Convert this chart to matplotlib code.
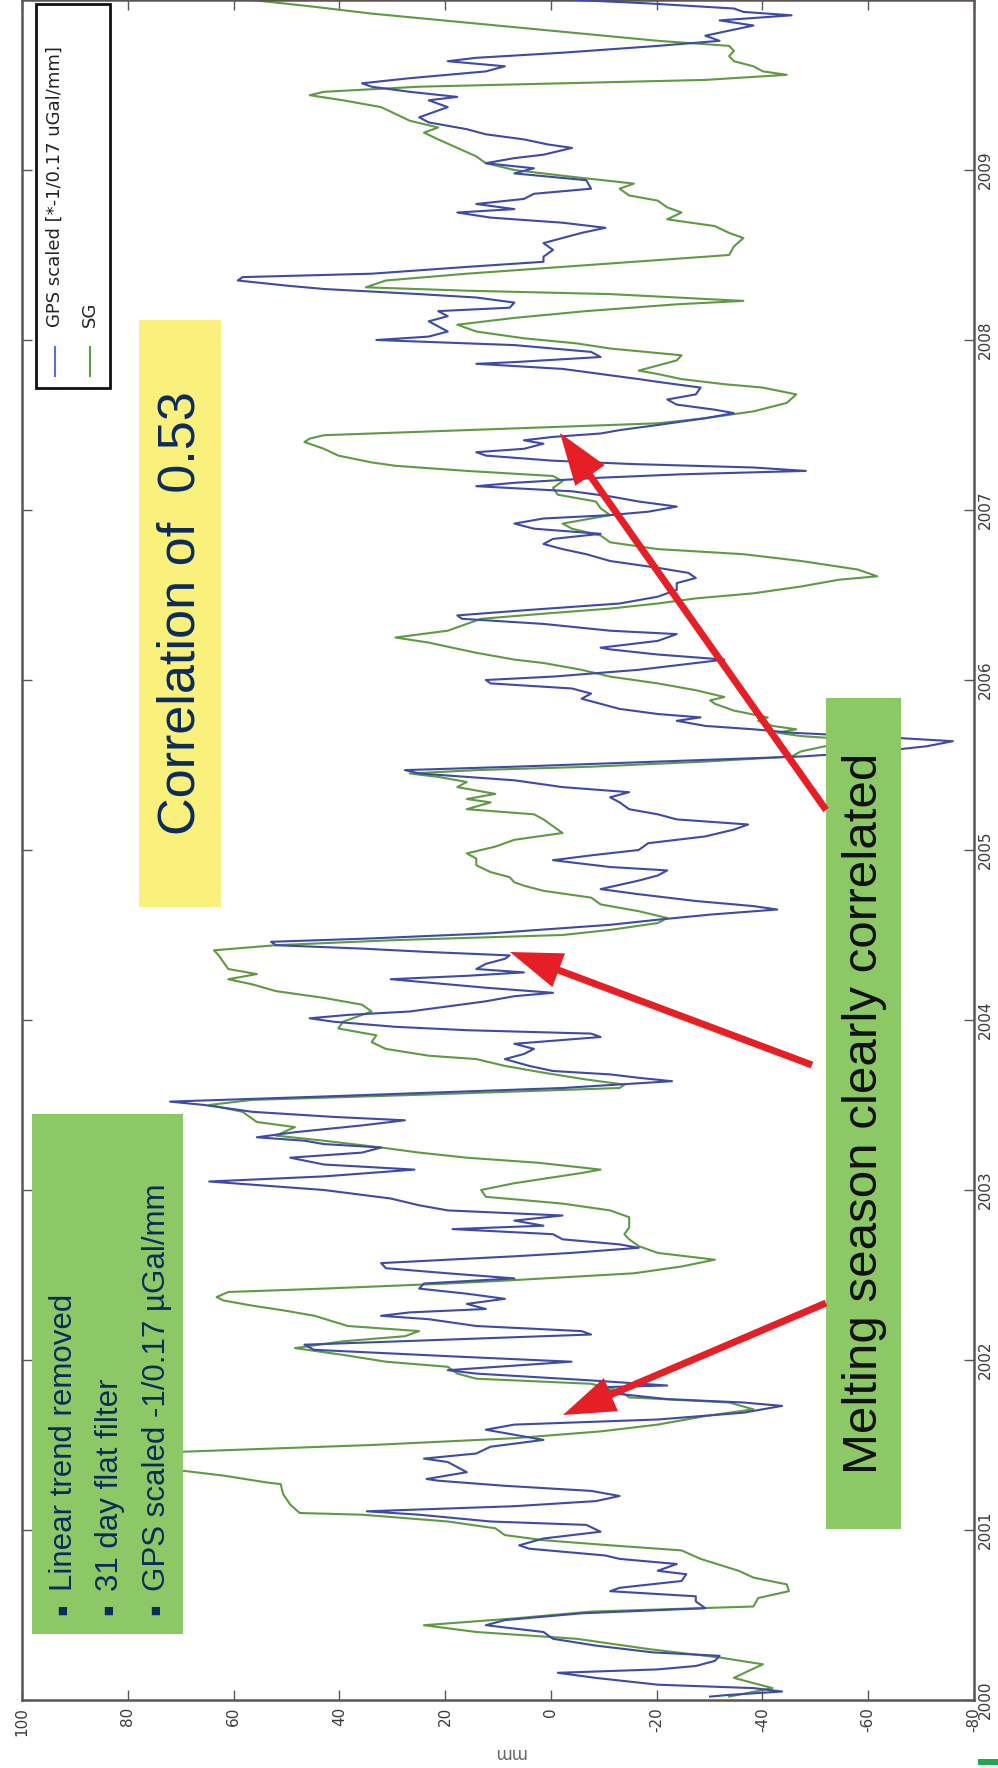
import matplotlib
matplotlib.use("Agg")
import matplotlib.pyplot as plt
from matplotlib.patches import Rectangle, FancyArrow
import numpy as np

# ---------------- data (decimal year, value) ----------------
sg_time = [2000.02,2000.07,2000.13,2000.17,2000.21,2000.25,2000.27,2000.30,2000.36,2000.40,2000.44,2000.48,2000.52,2000.55,2000.60,2000.64,2000.68,2000.72,2000.76,2000.83,2000.88,2000.91,2000.94,2000.97,2001.01,2001.05,2001.09,2001.10,2001.15,2001.21,2001.27,2001.28,2001.32,2001.35,2001.43,2001.46,2001.50,2001.54,2001.58,2001.62,2001.67,2001.71,2001.75,2001.78,2001.82,2001.86,2001.89,2001.92,2001.96,2001.99,2002.03,2002.07,2002.11,2002.14,2002.17,2002.20,2002.26,2002.29,2002.32,2002.35,2002.37,2002.40,2002.42,2002.45,2002.47,2002.51,2002.55,2002.59,2002.63,2002.67,2002.71,2002.74,2002.78,2002.84,2002.88,2002.92,2002.96,2003.00,2003.04,2003.10,2003.12,2003.16,2003.19,2003.22,2003.25,2003.29,2003.32,2003.37,2003.40,2003.42,2003.46,2003.50,2003.53,2003.56,2003.60,2003.62,2003.65,2003.69,2003.73,2003.77,2003.79,2003.83,2003.87,2003.91,2003.95,2003.99,2004.05,2004.09,2004.13,2004.17,2004.21,2004.24,2004.27,2004.30,2004.34,2004.38,2004.41,2004.44,2004.47,2004.50,2004.53,2004.57,2004.60,2004.64,2004.68,2004.72,2004.76,2004.79,2004.81,2004.84,2004.87,2004.91,2004.95,2004.98,2005.02,2005.06,2005.10,2005.14,2005.18,2005.21,2005.24,2005.28,2005.30,2005.33,2005.37,2005.40,2005.43,2005.45,2005.47,2005.49,2005.52,2005.55,2005.58,2005.61,2005.64,2005.67,2005.69,2005.71,2005.73,2005.76,2005.78,2005.82,2005.86,2005.88,2005.90,2005.94,2005.98,2006.02,2006.06,2006.08,2006.10,2006.12,2006.16,2006.19,2006.22,2006.25,2006.29,2006.33,2006.36,2006.39,2006.42,2006.45,2006.48,2006.51,2006.55,2006.59,2006.61,2006.65,2006.70,2006.74,2006.77,2006.81,2006.85,2006.89,2006.92,2006.95,2006.97,2007.01,2007.05,2007.09,2007.13,2007.17,2007.20,2007.23,2007.26,2007.28,2007.32,2007.36,2007.40,2007.42,2007.44,2007.46,2007.49,2007.51,2007.54,2007.58,2007.63,2007.68,2007.72,2007.74,2007.77,2007.80,2007.82,2007.85,2007.88,2007.91,2007.95,2007.98,2008.01,2008.05,2008.09,2008.13,2008.17,2008.21,2008.23,2008.27,2008.29,2008.31,2008.35,2008.39,2008.43,2008.47,2008.50,2008.55,2008.60,2008.63,2008.67,2008.71,2008.75,2008.78,2008.82,2008.85,2008.89,2008.92,2008.96,2009.00,2009.04,2009.08,2009.13,2009.18,2009.22,2009.25,2009.29,2009.33,2009.37,2009.41,2009.44,2009.46,2009.49,2009.51,2009.53,2009.56,2009.58,2009.61,2009.64,2009.67,2009.70,2009.73,2009.76,2009.80,2009.84,2009.88,2009.92,2009.96,2010.00]
sg_value = [-33.7,-41.9,-34.6,-37.3,-40.1,-31.9,-26.5,-18.4,-4.9,14.1,24.0,6.9,-7.6,-38.3,-39.2,-45.0,-44.6,-38.3,-35.5,-28.3,-24.7,-11.2,1.4,8.7,10.5,19.5,35.7,47.5,49.3,50.6,51.1,53.8,61.9,70.0,80.0,70.0,33.9,6.9,-9.4,-20.2,-29.2,-38.3,-33.7,-14.8,-13.0,-7.6,14.1,17.7,19.5,31.2,39.3,48.4,39.3,27.6,24.9,38.4,44.7,50.2,56.5,61.9,63.2,61.0,42.9,19.5,6.9,-15.7,-24.7,-31.0,-20.2,-16.6,-14.8,-13.9,-14.8,-14.8,-11.2,-2.2,12.3,13.2,6.9,-5.8,-9.4,2.3,15.9,24.9,32.1,42.9,52.0,48.4,55.6,56.5,58.3,64.6,56.5,24.9,-13.0,-13.9,-6.7,1.4,8.7,14.1,23.1,31.2,33.9,33.0,40.2,39.3,33.9,35.7,42.9,52.0,56.5,61.0,55.6,61.0,61.9,62.8,63.7,52.0,29.4,-2.2,-11.2,-20.2,-22.0,-16.6,-9.4,-7.6,1.4,5.1,6.9,7.8,11.4,14.1,14.1,15.9,10.5,6.9,-2.2,-0.4,1.4,3.2,15.9,11.4,15.9,10.5,17.7,15.9,21.3,26.7,14.1,-7.6,-29.2,-45.5,-47.3,-51.8,-62.0,-47.3,-42.8,-46.4,-41.9,-39.2,-41.0,-34.6,-31.0,-30.1,-32.8,-27.4,-20.2,-11.2,-5.8,-2.2,1.4,6.9,14.1,18.6,23.1,29.4,19.5,15.9,13.2,1.4,-11.2,-20.2,-27.4,-38.3,-47.3,-54.5,-61.7,-58.0,-47.3,-36.4,-20.2,-11.2,-9.4,-4.0,-2.2,-7.6,-11.2,-9.4,-8.5,-1.3,-0.4,-2.2,-0.4,15.9,29.4,33.9,40.2,42.9,46.6,45.6,42.9,24.9,-2.2,-20.2,-29.2,-38.3,-44.6,-46.4,-40.1,-32.8,-24.7,-20.2,-16.6,-20.2,-23.8,-24.7,-11.2,-4.9,5.1,14.1,17.7,6.9,-6.7,-23.8,-36.4,-11.2,15.9,35.0,31.2,15.9,-2.2,-20.2,-33.7,-34.6,-36.4,-33.7,-31.0,-22.0,-24.7,-22.0,-20.2,-14.8,-13.0,-15.7,-4.0,6.9,12.3,14.1,17.7,21.3,24.0,21.3,26.7,29.4,32.1,39.3,45.6,42.9,24.9,-2.2,-29.2,-44.6,-40.1,-38.3,-34.6,-33.7,-34.6,-33.7,-20.2,-6.7,6.9,20.4,33.9,44.7,56.5]

gps_time = [2000.02,2000.03,2000.05,2000.07,2000.09,2000.13,2000.16,2000.18,2000.20,2000.23,2000.26,2000.28,2000.32,2000.36,2000.40,2000.44,2000.47,2000.51,2000.54,2000.58,2000.61,2000.64,2000.66,2000.70,2000.74,2000.76,2000.80,2000.83,2000.85,2000.89,2000.91,2000.95,2000.99,2001.03,2001.05,2001.09,2001.11,2001.14,2001.17,2001.20,2001.23,2001.26,2001.29,2001.30,2001.34,2001.37,2001.40,2001.42,2001.45,2001.49,2001.53,2001.56,2001.59,2001.62,2001.65,2001.69,2001.73,2001.75,2001.77,2001.80,2001.84,2001.85,2001.88,2001.92,2001.94,2001.99,2002.02,2002.06,2002.09,2002.12,2002.15,2002.17,2002.20,2002.24,2002.26,2002.28,2002.30,2002.33,2002.36,2002.39,2002.42,2002.45,2002.48,2002.51,2002.54,2002.57,2002.61,2002.63,2002.66,2002.68,2002.71,2002.74,2002.77,2002.79,2002.82,2002.85,2002.88,2002.91,2002.95,2003.00,2003.05,2003.08,2003.12,2003.15,2003.19,2003.22,2003.25,2003.27,2003.29,2003.31,2003.34,2003.38,2003.41,2003.43,2003.46,2003.50,2003.52,2003.55,2003.60,2003.64,2003.66,2003.68,2003.70,2003.73,2003.77,2003.80,2003.83,2003.86,2003.90,2003.92,2003.94,2003.96,2003.99,2004.01,2004.03,2004.05,2004.08,2004.11,2004.14,2004.16,2004.19,2004.22,2004.24,2004.26,2004.28,2004.30,2004.33,2004.36,2004.38,2004.40,2004.42,2004.44,2004.46,2004.48,2004.51,2004.54,2004.56,2004.59,2004.62,2004.65,2004.67,2004.70,2004.74,2004.77,2004.82,2004.85,2004.88,2004.90,2004.94,2004.97,2005.00,2005.04,2005.08,2005.12,2005.15,2005.18,2005.21,2005.24,2005.28,2005.31,2005.34,2005.37,2005.41,2005.45,2005.47,2005.49,2005.52,2005.55,2005.58,2005.61,2005.64,2005.66,2005.68,2005.69,2005.71,2005.73,2005.76,2005.78,2005.80,2005.83,2005.86,2005.89,2005.92,2005.95,2005.98,2006.00,2006.02,2006.06,2006.09,2006.12,2006.15,2006.18,2006.19,2006.23,2006.27,2006.29,2006.33,2006.36,2006.38,2006.41,2006.45,2006.49,2006.53,2006.57,2006.60,2006.63,2006.66,2006.70,2006.74,2006.77,2006.80,2006.83,2006.86,2006.89,2006.92,2006.95,2006.97,2006.99,2007.02,2007.05,2007.08,2007.11,2007.14,2007.16,2007.19,2007.21,2007.23,2007.25,2007.27,2007.29,2007.32,2007.34,2007.36,2007.39,2007.41,2007.43,2007.45,2007.47,2007.50,2007.54,2007.57,2007.59,2007.62,2007.65,2007.68,2007.72,2007.75,2007.77,2007.80,2007.83,2007.86,2007.87,2007.90,2007.93,2007.97,2008.00,2008.02,2008.05,2008.08,2008.11,2008.14,2008.17,2008.19,2008.22,2008.25,2008.27,2008.30,2008.32,2008.35,2008.37,2008.39,2008.43,2008.46,2008.49,2008.53,2008.57,2008.60,2008.63,2008.66,2008.69,2008.72,2008.75,2008.77,2008.80,2008.83,2008.86,2008.89,2008.94,2008.98,2009.01,2009.04,2009.07,2009.09,2009.13,2009.15,2009.18,2009.21,2009.24,2009.25,2009.28,2009.31,2009.34,2009.37,2009.41,2009.43,2009.46,2009.49,2009.51,2009.54,2009.58,2009.61,2009.64,2009.66,2009.69,2009.73,2009.76,2009.79,2009.82,2009.85,2009.88,2009.91,2009.93,2009.95,2009.98,2010.00]
gps_value = [-30.1,-33.7,-43.7,-38.3,-20.2,-8.5,-1.3,-20.2,-27.4,-31.0,-31.9,-19.3,-8.5,-0.4,1.4,12.3,8.7,-5.8,-29.2,-27.4,-27.4,-11.2,-13.0,-24.7,-25.6,-20.2,-23.8,-13.0,-10.3,4.1,6.0,1.4,-9.4,-6.7,11.4,24.9,34.8,6.9,-8.5,-13.0,-7.6,8.7,21.3,23.5,15.9,17.7,19.5,24.0,14.1,11.4,1.4,6.9,12.3,6.9,-20.2,-36.4,-43.7,-36.4,-22.0,-13.0,-9.4,-22.0,-7.6,14.1,19.5,-3.9,17.7,44.8,46.6,19.5,-7.6,-5.8,14.1,23.1,32.1,26.7,12.3,15.9,8.7,15.9,24.9,24.0,6.9,19.5,31.2,32.1,6.9,-3.9,-16.6,-13.0,-2.2,-0.4,18.6,1.4,6.9,-2.2,19.5,24.9,30.3,42.9,64.6,42.9,25.8,42.9,49.3,35.7,32.1,42.9,46.6,55.6,48.4,35.7,27.6,41.1,56.5,65.5,72.0,43.0,-2.2,-22.9,-16.6,-11.2,-0.4,4.1,8.7,5.1,3.2,6.9,-9.4,-7.6,15.9,29.4,41.1,45.6,38.4,26.7,19.5,12.3,6.9,-0.4,12.3,23.1,30.3,15.9,5.1,14.1,12.3,8.7,7.8,23.1,35.7,52.0,52.9,33.9,11.4,-2.2,-11.2,-20.2,-30.1,-42.8,-38.3,-27.4,-16.6,-9.4,-16.6,-20.2,-22.0,-11.2,-0.4,-8.0,-16.6,-18.4,-29.2,-34.6,-37.3,-23.8,-20.2,-14.8,-13.0,-11.2,-14.8,-2.2,6.9,24.9,27.6,6.9,-20.2,-47.3,-62.0,-71.0,-76.0,-65.0,-51.8,-45.5,-38.3,-29.2,-23.8,-28.3,-20.2,-13.0,-9.4,-5.8,-7.6,-4.0,11.4,12.3,-0.4,-16.6,-24.7,-32.8,-20.2,-11.2,-9.4,-20.2,-23.8,-11.2,1.4,16.8,17.7,5.1,-13.0,-20.2,-23.8,-23.8,-27.4,-26.0,-20.2,-11.2,-6.7,-2.2,1.4,-0.4,-9.4,3.2,6.9,1.4,-11.2,-18.4,-23.8,-16.6,-11.2,-4.0,14.1,6.9,-9.4,-24.7,-48.2,-38.3,-15.7,-0.4,12.3,14.1,5.1,1.4,5.1,-0.4,-9.4,-13.0,-20.2,-29.2,-34.6,-31.0,-23.8,-22.0,-27.4,-28.3,-21.1,-16.6,-9.4,-2.2,14.1,6.9,-9.4,-7.6,6.9,33.0,23.1,19.5,21.3,23.1,19.5,21.3,7.8,6.9,14.1,24.9,42.9,50.0,59.2,58.3,33.9,15.9,1.4,1.4,-0.4,1.4,-2.2,-5.8,-10.3,-2.2,11.4,17.7,6.9,14.1,5.1,3.2,-7.6,-6.7,6.9,3.2,12.3,6.9,1.4,-4.0,0.5,5.1,12.3,15.9,17.7,23.1,24.9,22.2,19.5,23.1,17.7,26.7,33.9,35.7,26.7,12.3,8.7,19.5,14.1,-2.2,-20.2,-31.9,-29.2,-33.7,-38.3,-31.9,-45.5,-36.4,-34.6,-18.4,-4.9]

value_ticks = [100, 80, 60, 40, 20, 0, -20, -40, -60, -80]
year_ticks = [2000, 2001, 2002, 2003, 2004, 2005, 2006, 2007, 2008, 2009]
legend_labels = ["GPS scaled [*-1/0.17 uGal/mm]", "SG"]
note_lines = ["Linear trend removed", "31 day flat filter", "GPS scaled -1/0.17 \u00b5Gal/mm"]
corr_text = "Correlation of  0.53"
melt_text = "Melting season clearly correlated"

# ---------------- styling ----------------
W, H = 998, 1768
BLUE = "#3d4aa6"
GREEN = "#5f9a42"
NAVY = "#0c2b5c"
BOXGREEN = "#8cc866"
YELLOW = "#f9f17c"
RED = "#e61e25"
SPINE = "#5c5552"
SANS = ["Liberation Sans", "DejaVu Sans"]

fig = plt.figure(figsize=(W / 100, H / 100), dpi=100)
fig.patch.set_facecolor("white")

ax = fig.add_axes([22 / W, (H - 1700) / H, 952 / W, 1700 / H])
ax.plot(gps_value, gps_time, color=BLUE, lw=1.5, zorder=3)
ax.plot(sg_value, sg_time, color=GREEN, lw=1.5, zorder=2)
ax.set_xlim(100, -80)
ax.set_ylim(2000, 2010)
ax.set_xticks(value_ticks)
ax.set_xticklabels([str(v) for v in value_ticks])
ax.set_yticks(year_ticks)
ax.set_yticklabels([str(y) for y in year_ticks])
ax.tick_params(axis="x", direction="in", top=True, bottom=True, length=7, width=1,
               color=SPINE, labelsize=11, labelcolor="#3a3a3a", labelrotation=90, pad=5)
ax.tick_params(axis="y", direction="in", left=True, right=True, labelleft=False,
               labelright=True, length=7, width=1, color=SPINE, labelsize=11,
               labelcolor="#3a3a3a", labelrotation=90, pad=3)
for lab in ax.get_yticklabels():
    lab.set_va("center")
for s in ax.spines.values():
    s.set_color(SPINE)
    s.set_linewidth(1.8)

# ---------------- overlay (pixel coordinates) ----------------
ov = fig.add_axes([0, 0, 1, 1], zorder=5)
ov.set_xlim(0, W)
ov.set_ylim(H, 0)
ov.axis("off")
ov.patch.set_alpha(0)

# legend
ov.add_patch(Rectangle((36, 4), 74, 384, facecolor="white", edgecolor="#111111", lw=2))
ov.plot([55, 55], [347, 376], color="#5a6fd0", lw=1.5)
ov.plot([90, 90], [347, 376], color=GREEN, lw=1.5)
ov.text(55, 327, legend_labels[0], rotation=90, rotation_mode="anchor", ha="left",
        va="center", fontsize=13, color="#222222", family=["DejaVu Sans"])
ov.text(90, 327, legend_labels[1], rotation=90, rotation_mode="anchor", ha="left",
        va="center", fontsize=13, color="#222222", family=["DejaVu Sans"])

# yellow box
ov.add_patch(Rectangle((139, 320), 82, 587, facecolor=YELLOW, edgecolor="none"))
ov.text(181, 613, corr_text, rotation=90, ha="center", va="center", fontsize=37.5,
        color=NAVY, family=SANS)

# left green box with notes
ov.add_patch(Rectangle((32, 1114), 151, 520, facecolor=BOXGREEN, edgecolor="none"))
for i, (x, line) in enumerate(zip([64, 110, 157], note_lines)):
    ov.text(x, 1609, "\u25aa", rotation=90, ha="center", va="center", fontsize=24,
            color=NAVY, family=SANS)
    ov.text(x, 1591, line, rotation=90, rotation_mode="anchor", ha="left",
            va="center", fontsize=22.5, color=NAVY, family=SANS)

# right green box
ov.add_patch(Rectangle((826, 698), 75, 831, facecolor=BOXGREEN, edgecolor="none"))
ov.text(865, 1113, melt_text, rotation=90, ha="center", va="center", fontsize=35.5,
        color="#111111", family=SANS)

# arrows
for (x0, y0, x1, y1) in [(826, 810, 560, 433), (812, 1065, 510, 952), (826, 1303, 563, 1415)]:
    ov.add_patch(FancyArrow(x0, y0, x1 - x0, y1 - y0, width=7, head_width=36,
                            head_length=52, length_includes_head=True,
                            color=RED, lw=0))

# ylabel (upside down after rotation) and small green mark
ov.text(509, 1753, "mm", rotation=180, ha="center", va="center", fontsize=12,
        color="#666666")
ov.add_patch(Rectangle((978, 1759), 20, 6, facecolor="#1fa84f", edgecolor="none"))

fig.savefig("out.png", dpi=100, facecolor="white")
